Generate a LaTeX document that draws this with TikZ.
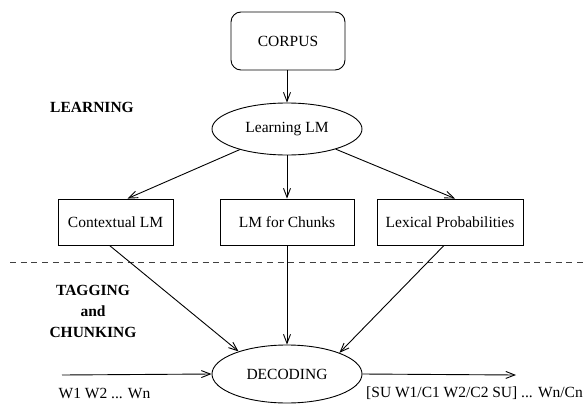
\documentclass[tikz,border=0pt]{standalone}
\usepackage{fontspec}
\setmainfont{Liberation Serif}
\usetikzlibrary{arrows.meta,shapes.geometric}
\begin{document}
\begin{tikzpicture}[x=1pt,y=-1pt,
  every node/.style={font=\fontsize{15.5}{21}\selectfont, inner sep=0pt},
  line/.style={line width=0.9pt},
  arr/.style={line, -{Straight Barb[length=9pt,width=7pt,line width=0.9pt]}},
  boxnode/.style={draw, line width=0.9pt, rectangle, minimum height=46pt},
  ellnode/.style={draw, line width=0.9pt, ellipse, minimum width=150pt},
  lab/.style={font=\fontsize{15.5}{21}\selectfont\bfseries, align=center}]
\useasboundingbox (0,0) rectangle (583,404);
\node[draw, line width=0.9pt, rounded corners=10pt, minimum width=114pt, minimum height=58pt] (corpus) at (288,41) {CORPUS};
\node[ellnode, minimum height=52pt] (learn) at (287,129) {Learning LM};
\node[boxnode, minimum width=115pt] (ctx) at (115.5,222) {Contextual LM};
\node[boxnode, minimum width=134pt] (chunks) at (287,222) {LM for Chunks};
\node[boxnode, minimum width=146pt] (lex) at (450,222) {Lexical Probabilities};
\node[ellnode, minimum height=58pt] (dec) at (287,374) {DECODING};
\node[lab] (learning) at (92,107) {LEARNING};
\node[lab] (tagging) at (93,311) {TAGGING\\and\\CHUNKING};
\node (in) at (104.5,393) {W1 W2 ... Wn};
\node (out) at (474.5,393) {[SU W1/C1 W2/C2 SU] ... Wn/Cn};
\coordinate (dl) at (10,262);
\coordinate (dr) at (583,262);
\coordinate (ins) at (62,375);
\coordinate (oute) at (516,375);
\draw[line, black!75, dash pattern=on 6pt off 4.7pt] (dl) -- (dr);
\draw[arr] (corpus.south -| learn.north) -- (learn.north);
\draw[arr] (learn) -- ([xshift=12pt]ctx.north);
\draw[arr] (learn.south) -- (chunks.north);
\draw[arr] (learn) -- ([xshift=5pt]lex.north);
\draw[arr] ([xshift=-6pt]ctx.south) -- (dec.155);
\draw[arr] (chunks.south) -- (dec.north);
\draw[arr] ([xshift=-6pt]lex.south) -- (dec.22);
\draw[arr] (ins) -- (dec.west);
\draw[arr] (dec.east) -- (oute);
\end{tikzpicture}
\end{document}
